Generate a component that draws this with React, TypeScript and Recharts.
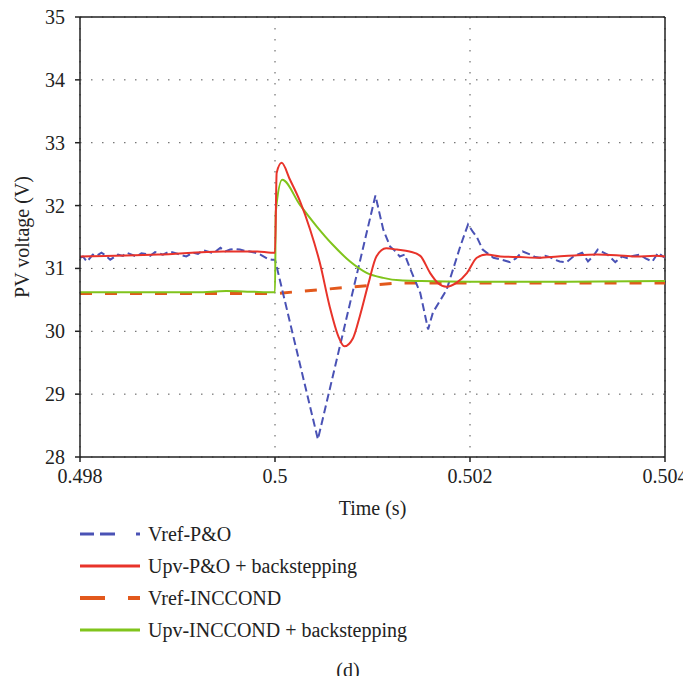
import { CartesianGrid, Line, LineChart, ReferenceLine, XAxis, YAxis } from "recharts";

// axis ticks
const timeTicks = [0.498, 0.5, 0.502, 0.504];
const voltTicks = [28, 29, 30, 31, 32, 33, 34, 35];

// Vref-P&O (blue dashed)
const pnoRefTime = [
  0.498, 0.49803, 0.49807, 0.4981, 0.49813, 0.49817, 0.49822, 0.49826, 0.49831, 0.49835, 0.49839, 0.49844,
  0.49848, 0.49853, 0.49858, 0.49863, 0.49868, 0.49872, 0.49877, 0.49881, 0.49885, 0.49892, 0.49899, 0.49904,
  0.49909, 0.49916, 0.49921, 0.49926, 0.49935, 0.4994, 0.49944, 0.49949, 0.49954, 0.49959, 0.49964, 0.49969,
  0.49974, 0.4998, 0.49985, 0.49993, 0.49997, 0.5, 0.50044, 0.50103, 0.50111, 0.50118, 0.50123, 0.50128,
  0.50133, 0.50138, 0.50149, 0.50157, 0.50162, 0.50176, 0.5019, 0.50198, 0.50203, 0.50207, 0.50213, 0.50218,
  0.50224, 0.50232, 0.50241, 0.50247, 0.50254, 0.50262, 0.50267, 0.50272, 0.50277, 0.50282, 0.50287, 0.50292,
  0.50299, 0.50306, 0.5031, 0.50315, 0.50321, 0.50326, 0.50331, 0.50336, 0.50341, 0.50349, 0.50356, 0.50362,
  0.50367, 0.50374, 0.5038, 0.50387, 0.50393, 0.50397, 0.504,
];
const pnoRefVolt = [
  31.17, 31.19, 31.11, 31.16, 31.22, 31.2, 31.25, 31.21, 31.14, 31.18, 31.22, 31.2,
  31.25, 31.22, 31.19, 31.24, 31.23, 31.2, 31.26, 31.24, 31.22, 31.27, 31.24, 31.21,
  31.19, 31.25, 31.23, 31.29, 31.25, 31.28, 31.33, 31.27, 31.3, 31.31, 31.3, 31.28,
  31.27, 31.25, 31.22, 31.15, 31.14, 31.14, 28.28, 32.16, 31.62, 31.35, 31.28, 31.19,
  31.22, 31.02, 30.61, 30.03, 30.3, 30.66, 31.35, 31.7, 31.58, 31.5, 31.3, 31.24,
  31.17, 31.14, 31.1, 31.16, 31.27, 31.22, 31.18, 31.17, 31.2, 31.18, 31.14, 31.11,
  31.1, 31.19, 31.22, 31.25, 31.11, 31.19, 31.3, 31.26, 31.22, 31.1, 31.19, 31.16,
  31.2, 31.22, 31.16, 31.11, 31.25, 31.2, 31.17,
];

// Upv-P&O + backstepping (red)
const pnoUpvTime = [
  0.498, 0.4988, 0.49947, 0.49982, 0.49996, 0.5, 0.500017, 0.500068, 0.500154, 0.500256, 0.50036, 0.50046,
  0.50056, 0.50065, 0.50071, 0.5008, 0.50087, 0.50096, 0.50104, 0.50114, 0.50125, 0.50138, 0.50149, 0.50159,
  0.50167, 0.50176, 0.50186, 0.50197, 0.50207, 0.50217, 0.50231, 0.50251, 0.5027, 0.5029, 0.5031, 0.5033,
  0.5035, 0.5037, 0.5039, 0.504,
];
const pnoUpvVolt = [
  31.19, 31.22, 31.27, 31.27, 31.25, 31.25, 32.52, 32.68, 32.41, 32.07, 31.62, 31.09,
  30.4, 29.92, 29.76, 29.89, 30.24, 30.77, 31.19, 31.32, 31.3, 31.27, 31.2, 30.93,
  30.77, 30.71, 30.77, 30.93, 31.17, 31.22, 31.19, 31.18, 31.17, 31.19, 31.21, 31.22,
  31.21, 31.19, 31.2, 31.19,
];

// Vref-INCCOND (orange dashed)
const incRefTime = [0.498, 0.5, 0.50128, 0.504];
const incRefVolt = [30.6, 30.6, 30.77, 30.77];

// Upv-INCCOND + backstepping (green)
const incUpvTime = [
  0.498, 0.4992, 0.4995, 0.49975, 0.49999, 0.5, 0.500008, 0.500074, 0.500256, 0.500427, 0.50059, 0.50077,
  0.50094, 0.50111, 0.50128, 0.5015, 0.502, 0.503, 0.504,
];
const incUpvVolt = [
  30.62, 30.62, 30.64, 30.63, 30.62, 30.62, 31.9, 32.41, 32.01, 31.67, 31.38, 31.11,
  30.93, 30.85, 30.81, 30.8, 30.79, 30.79, 30.8,
];

const legendItems = [
  { name: "Vref-P&O", color: "#4a52b5", dash: "14 6 15 21 4", width: 3 },
  { name: "Upv-P&O + backstepping", color: "#e8332a", dash: undefined, width: 3 },
  { name: "Vref-INCCOND", color: "#e2581c", dash: "25 23", width: 4 },
  { name: "Upv-INCCOND + backstepping", color: "#80c41c", dash: undefined, width: 3 },
];

const toPoints = (t: number[], v: number[]) => t.map((time, i) => ({ time, v: v[i] }));

const FONT = "Liberation Serif";

const TimeTick = (props: any) => {
  const { x, y, payload } = props;
  return (
    <text x={x} y={y + 5} textAnchor="middle" dominantBaseline="hanging" fontSize={20} fontFamily={FONT} fill="#222">
      {String(payload.value)}
    </text>
  );
};

const VoltTick = (props: any) => {
  const { x, y, payload } = props;
  return (
    <text x={x - 8} y={y} textAnchor="end" dominantBaseline="central" fontSize={20} fontFamily={FONT} fill="#222">
      {String(payload.value)}
    </text>
  );
};

const YLabel = (props: any) => {
  const vb = props.viewBox || { x: 0, y: 17, width: 80, height: 440 };
  const cx = vb.x + 22;
  const cy = vb.y + vb.height / 2;
  return (
    <text
      x={cx}
      y={cy}
      transform={`rotate(-90 ${cx} ${cy})`}
      textAnchor="middle"
      dominantBaseline="central"
      fontSize={20}
      fontFamily={FONT}
      fill="#222"
    >
      PV voltage (V)
    </text>
  );
};

const XLabel = (props: any) => {
  const vb = props.viewBox || { x: 80, y: 457, width: 585, height: 60 };
  return (
    <text
      x={vb.x + vb.width / 2}
      y={vb.y + 51}
      textAnchor="middle"
      dominantBaseline="central"
      fontSize={20}
      fontFamily={FONT}
      fill="#222"
    >
      Time (s)
    </text>
  );
};

export default function App() {
  return (
    <div
      style={{
        position: "relative",
        width: 691,
        height: 684,
        margin: -8,
        overflow: "hidden",
        fontFamily: FONT,
      }}
    >
      <LineChart width={691} height={684} margin={{ top: 17, right: 26, left: 0, bottom: 167 }}>
        <CartesianGrid stroke="#555" strokeDasharray="1.5 9.5" />
        <XAxis
          dataKey="time"
          type="number"
          domain={[0.498, 0.504]}
          ticks={timeTicks}
          allowDataOverflow
          height={60}
          tick={<TimeTick />}
          tickSize={5}
          stroke="#222"
          strokeWidth={1.5}
          label={<XLabel />}
        />
        <YAxis
          type="number"
          domain={[28, 35]}
          ticks={voltTicks}
          allowDataOverflow
          width={80}
          tick={<VoltTick />}
          tickSize={5}
          stroke="#222"
          strokeWidth={1.5}
          label={<YLabel />}
        />
        <ReferenceLine y={35} stroke="#222" strokeWidth={1.5} />
        <ReferenceLine x={0.504} stroke="#222" strokeWidth={1.5} />
        <Line
          data={toPoints(incRefTime, incRefVolt)}
          dataKey="v"
          type="linear"
          stroke="#e2581c"
          strokeWidth={3}
          strokeDasharray="12 13"
          dot={false}
          isAnimationActive={false}
        />
        <Line
          data={toPoints(pnoRefTime, pnoRefVolt)}
          dataKey="v"
          type="linear"
          stroke="#4a52b5"
          strokeWidth={2}
          strokeDasharray="8 4"
          dot={false}
          isAnimationActive={false}
        />
        <Line
          data={toPoints(incUpvTime, incUpvVolt)}
          dataKey="v"
          type="monotone"
          stroke="#80c41c"
          strokeWidth={2}
          dot={false}
          isAnimationActive={false}
        />
        <Line
          data={toPoints(pnoUpvTime, pnoUpvVolt)}
          dataKey="v"
          type="monotone"
          stroke="#e8332a"
          strokeWidth={2}
          dot={false}
          isAnimationActive={false}
        />
      </LineChart>

      {legendItems.map((item, i) => (
        <div
          key={item.name}
          style={{
            position: "absolute",
            left: 80,
            top: 534 + i * 32 - 12,
            height: 24,
            display: "flex",
            alignItems: "center",
            fontSize: 20,
            color: "#222",
            whiteSpace: "nowrap",
          }}
        >
          <svg width={60} height={8} style={{ marginRight: 8 }}>
            <line
              x1={0}
              y1={4}
              x2={60}
              y2={4}
              stroke={item.color}
              strokeWidth={item.width}
              strokeDasharray={item.dash}
            />
          </svg>
          <span>{item.name}</span>
        </div>
      ))}

      <div
        style={{
          position: "absolute",
          left: 308,
          width: 80,
          top: 658,
          textAlign: "center",
          fontSize: 20,
          color: "#222",
          lineHeight: "24px",
        }}
      >
        (d)
      </div>
    </div>
  );
}
